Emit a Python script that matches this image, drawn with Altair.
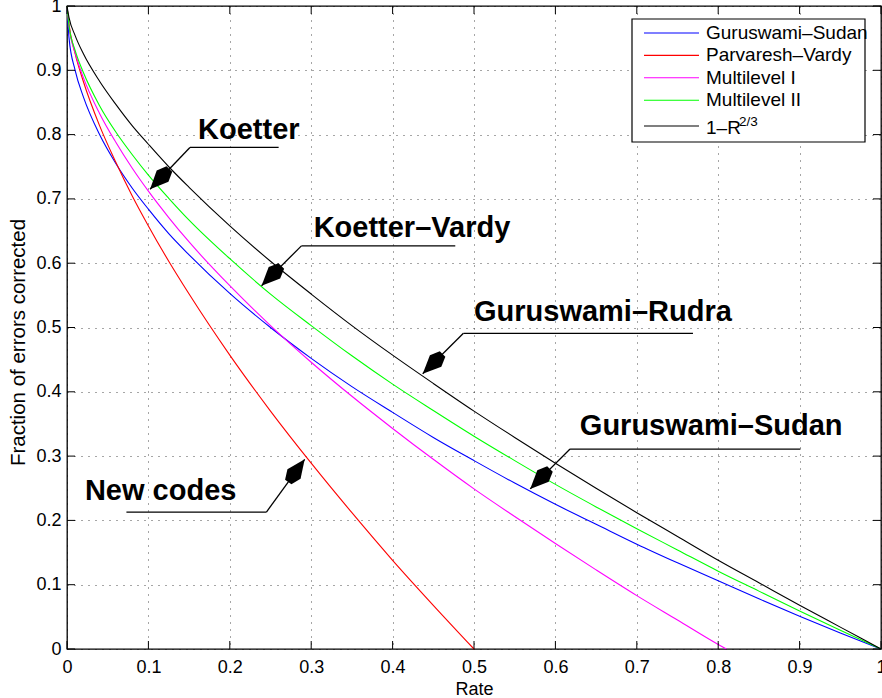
import math
import altair as alt
import pandas as pd

# ---- curve data: rate R vs. fraction of errors corrected ----
rate_full = [0, 0.0025, 0.01, 0.02, 0.04, 0.06, 0.08, 0.1, 0.125, 0.15, 0.2, 0.25,
             0.3, 0.35, 0.4, 0.45, 0.5, 0.55, 0.6, 0.65, 0.7, 0.75, 0.8, 0.85, 0.9,
             0.95, 1.0]
guruswami_sudan = [1.0, 0.95, 0.9, 0.859, 0.8, 0.755, 0.717, 0.684, 0.646, 0.613,
                   0.553, 0.5, 0.452, 0.408, 0.368, 0.329, 0.293, 0.258, 0.225,
                   0.194, 0.163, 0.134, 0.106, 0.078, 0.051, 0.025, 0.0]
multilevel_2 = [1.0, 0.969, 0.931, 0.897, 0.845, 0.804, 0.769, 0.737, 0.701, 0.667,
                0.607, 0.552, 0.503, 0.456, 0.412, 0.371, 0.331, 0.293, 0.256,
                0.221, 0.187, 0.154, 0.121, 0.090, 0.059, 0.029, 0.0]
one_minus_r23 = [1.0, 0.982, 0.954, 0.926, 0.883, 0.847, 0.814, 0.785, 0.75, 0.718,
                 0.658, 0.603, 0.552, 0.503, 0.457, 0.413, 0.370, 0.329, 0.289,
                 0.250, 0.212, 0.175, 0.138, 0.103, 0.068, 0.034, 0.0]

rate_pv = [0, 0.0025, 0.01, 0.02, 0.04, 0.06, 0.08, 0.1, 0.125, 0.15, 0.2, 0.25,
           0.3, 0.35, 0.4, 0.45, 0.5]
parvaresh_vardy = [1.0, 0.971, 0.926, 0.883, 0.814, 0.757, 0.705, 0.658, 0.603,
                   0.552, 0.457, 0.370, 0.289, 0.212, 0.138, 0.068, 0.0]

rate_ml1 = [0, 0.0025, 0.01, 0.02, 0.04, 0.06, 0.08, 0.1, 0.125, 0.15, 0.2, 0.25,
            0.3, 0.35, 0.4, 0.45, 0.5, 0.55, 0.6, 0.65, 0.7, 0.75, 0.8, 0.81]
multilevel_1 = [1.0, 0.968, 0.927, 0.889, 0.833, 0.788, 0.748, 0.712, 0.671, 0.633,
                0.565, 0.503, 0.446, 0.393, 0.343, 0.295, 0.249, 0.206, 0.164,
                0.123, 0.083, 0.045, 0.007, 0.0]

series_names = ["Guruswami–Sudan", "Parvaresh–Vardy", "Multilevel I",
                "Multilevel II", "1–R"]
series_colors = ["#0000ff", "#ff0000", "#ff00ff", "#00ff00", "#000000"]

tick_values = [0, 0.1, 0.2, 0.3, 0.4, 0.5, 0.6, 0.7, 0.8, 0.9, 1.0]

# ---- callouts (data coordinates) ----
callout_text = ["Koetter", "Koetter–Vardy", "Guruswami–Rudra", "Guruswami–Sudan",
                "New codes"]
callout_text_x = [0.161, 0.303, 0.500, 0.630, 0.022]
callout_text_y = [0.807, 0.654, 0.524, 0.347, 0.246]
callout_tip_x = [0.102, 0.239, 0.437, 0.569, 0.292]
callout_tip_y = [0.715, 0.565, 0.428, 0.249, 0.295]
callout_elbow_x = [0.151, 0.288, 0.487, 0.618, 0.245]
callout_elbow_y = [0.780, 0.627, 0.491, 0.311, 0.213]
callout_shelf_x = [0.260, 0.477, 0.769, 0.901, 0.073]

W, H = 814, 643
FONT = "Liberation Sans"

pairs = [
    (series_names[0], rate_full, guruswami_sudan),
    (series_names[1], rate_pv, parvaresh_vardy),
    (series_names[2], rate_ml1, multilevel_1),
    (series_names[3], rate_full, multilevel_2),
    (series_names[4], rate_full, one_minus_r23),
]
rows = []
for name, xs, ys in pairs:
    for i, (r, f) in enumerate(zip(xs, ys)):
        rows.append({"series": name, "rate": r, "frac": f, "i": i})
curves = pd.DataFrame(rows)

xscale = alt.Scale(domain=[0, 1], nice=False, zero=False)
yscale = alt.Scale(domain=[0, 1], nice=False, zero=False)

# one axis definition per channel, shared by every layer so they merge
x_axis = alt.Axis(values=tick_values, format=".1~f", grid=True, domain=False,
                  ticks=False, labelPadding=9, labelFontSize=18, labelFont=FONT,
                  labelColor="black", title="Rate", titleFont=FONT,
                  titleFontSize=18, titleFontWeight="normal", titleColor="black",
                  titlePadding=4, labelFlush=False,
                  gridColor="black", gridDash=[1, 6], gridOpacity=0.7)
y_axis = alt.Axis(values=tick_values, format=".1~f", grid=True, domain=False,
                  ticks=False, labelPadding=6, labelFontSize=18, labelFont=FONT,
                  labelColor="black", title="Fraction of errors corrected",
                  titleFont=FONT, titleFontSize=20.5, titleFontWeight="normal",
                  titleColor="black", titleX=-49, titleY=336,
                  titleBaseline="middle", labelFlush=False,
                  gridColor="black", gridDash=[1, 6], gridOpacity=0.7)


def X(field):
    return alt.X(field, scale=xscale, axis=x_axis, title="Rate")


def Y(field):
    return alt.Y(field, scale=yscale, axis=y_axis,
                 title="Fraction of errors corrected")


lines = alt.Chart(curves).mark_line(interpolate="monotone", strokeWidth=1.1).encode(
    x=X("rate:Q"),
    y=Y("frac:Q"),
    color=alt.Color("series:N", scale=alt.Scale(domain=series_names,
                                                range=series_colors), legend=None),
    order="i:Q",
)

# inward tick marks on all four sides of the box
ticks_df = pd.DataFrame({"v": tick_values})
tk = alt.Chart(ticks_df)
tick_len = 8
tick_bottom = tk.mark_rule(color="black", strokeWidth=1).encode(
    x=X("v:Q"), y=alt.value(H - tick_len), y2=alt.value(H))
tick_top = tk.mark_rule(color="black", strokeWidth=1).encode(
    x=X("v:Q"), y=alt.value(0), y2=alt.value(tick_len))
tick_left = tk.mark_rule(color="black", strokeWidth=1).encode(
    y=Y("v:Q"), x=alt.value(0), x2=alt.value(tick_len))
tick_right = tk.mark_rule(color="black", strokeWidth=1).encode(
    y=Y("v:Q"), x=alt.value(W - tick_len), x2=alt.value(W))

# callout geometry: arrow heads point from the elbow toward the tip
angles = []
for tx, ty, ex, ey in zip(callout_tip_x, callout_tip_y, callout_elbow_x, callout_elbow_y):
    dx = (tx - ex) * W
    dy = -(ty - ey) * H
    angles.append(round(math.degrees(math.atan2(dx, -dy)) % 360, 2))

callouts = pd.DataFrame({
    "label": callout_text, "tx": callout_text_x, "ty": callout_text_y,
    "px": callout_tip_x, "py": callout_tip_y, "ex": callout_elbow_x,
    "ey": callout_elbow_y, "sx": callout_shelf_x, "angle": angles,
})
cb = alt.Chart(callouts)
leader = cb.mark_rule(color="black", strokeWidth=1.3).encode(
    x=X("ex:Q"), y=Y("ey:Q"), x2="px:Q", y2="py:Q")
shelf = cb.mark_rule(color="black", strokeWidth=1.3).encode(
    x=X("ex:Q"), y=Y("ey:Q"), x2="sx:Q")
head_path = "M0,0 L0.58,1.3 L0.28,2 L-0.28,2 L-0.58,1.3 Z"
heads = cb.mark_point(shape=head_path, filled=True, size=784, color="black",
                      opacity=1, strokeWidth=0).encode(
    x=X("px:Q"), y=Y("py:Q"), angle=alt.Angle("angle:Q", scale=None))
labels = cb.mark_text(font=FONT, fontSize=29, fontWeight="bold", align="left",
                      baseline="middle", color="black").encode(
    x=X("tx:Q"), y=Y("ty:Q"), text="label:N")

# legend box in the upper right corner
one = alt.Chart(pd.DataFrame({"k": [0]}))
legend_layers = [
    one.mark_rect(fill="white", stroke="black", strokeWidth=1.2).encode(
        x=alt.value(565), x2=alt.value(798), y=alt.value(13), y2=alt.value(136))
]
row_y = [27, 49.4, 71.8, 94.2, 120]
for name, col, ry in zip(series_names, series_colors, row_y):
    legend_layers.append(one.mark_rule(stroke=col, strokeWidth=1.1).encode(
        x=alt.value(577), x2=alt.value(632), y=alt.value(ry)))
    ty = ry + 2 if name == "1–R" else ry
    legend_layers.append(one.mark_text(font=FONT, fontSize=19, align="left",
                                       baseline="middle", fill="black",
                                       text=name).encode(
        x=alt.value(639), y=alt.value(ty)))
legend_layers.append(one.mark_text(font=FONT, fontSize=13.5, align="left",
                                   baseline="middle", fill="black",
                                   text="2/3").encode(
    x=alt.value(672), y=alt.value(115.5)))

chart = alt.layer(
    lines, tick_bottom, tick_top, tick_left, tick_right, leader, shelf, heads,
    labels, *legend_layers,
).properties(
    width=W, height=H,
    autosize=alt.AutoSizeParams(type="none"),
    padding={"left": 67, "top": 6, "right": 1, "bottom": 49},
    background="white",
).configure_view(stroke="black", strokeWidth=1.3)

chart.save("out.html", embed_options={"renderer": "svg", "actions": False})
